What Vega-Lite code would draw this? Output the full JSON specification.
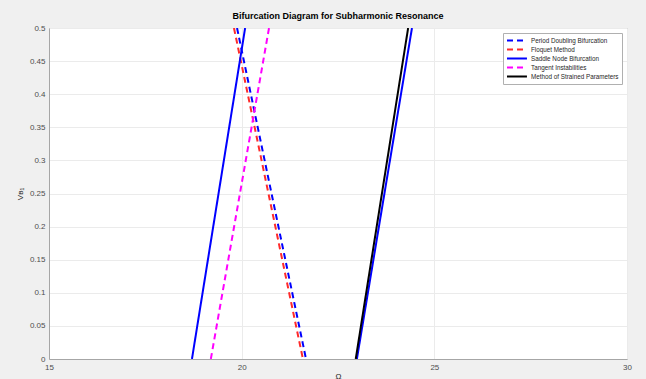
{
  "$schema": "https://vega.github.io/schema/vega-lite/v6.json",
  "width": 578,
  "height": 331,
  "autosize": {"type": "none"},
  "padding": {"left": 49, "top": 28, "right": 19, "bottom": 20},
  "background": "#f0f0f0",
  "title": {
    "text": "Bifurcation Diagram for Subharmonic Resonance",
    "font": "Liberation Sans",
    "fontSize": 9,
    "fontWeight": "bold",
    "color": "#000000",
    "anchor": "middle",
    "offset": 3
  },
  "config": {
    "view": {"fill": "white", "stroke": "#a6a6a6", "strokeWidth": 1},
    "axis": {
      "labelFont": "Liberation Sans",
      "labelFontSize": 8,
      "labelColor": "#4d4d4d",
      "titleFont": "Liberation Sans",
      "titleFontSize": 8,
      "titleFontWeight": "normal",
      "titleColor": "#262626",
      "gridColor": "#ebebeb",
      "gridWidth": 1,
      "domainColor": "#a6a6a6",
      "ticks": false,
      "labelPadding": 4,
      "labelFlush": false
    },
    "legend": {
      "labelFont": "Liberation Sans",
      "labelFontSize": 6.3,
      "labelColor": "#262626"
    }
  },
  "data": {
    "values": [
      {"series": "Period Doubling Bifurcation", "seg": "pd", "omega": 19.88, "v": 0.5},
      {"series": "Period Doubling Bifurcation", "seg": "pd", "omega": 21.67, "v": 0},
      {"series": "Floquet Method", "seg": "fl", "omega": 19.8, "v": 0.5},
      {"series": "Floquet Method", "seg": "fl", "omega": 21.59, "v": 0},
      {"series": "Saddle Node Bifurcation", "seg": "sn1", "omega": 18.71, "v": 0},
      {"series": "Saddle Node Bifurcation", "seg": "sn1", "omega": 20.09, "v": 0.5},
      {"series": "Saddle Node Bifurcation", "seg": "sn2", "omega": 22.99, "v": 0},
      {"series": "Saddle Node Bifurcation", "seg": "sn2", "omega": 24.42, "v": 0.5},
      {"series": "Tangent Instabilities", "seg": "ti", "omega": 19.2, "v": 0},
      {"series": "Tangent Instabilities", "seg": "ti", "omega": 20.71, "v": 0.5},
      {"series": "Method of Strained Parameters", "seg": "msp", "omega": 22.96, "v": 0},
      {"series": "Method of Strained Parameters", "seg": "msp", "omega": 24.32, "v": 0.5}
    ]
  },
  "mark": {"type": "line", "strokeWidth": 2, "clip": true},
  "encoding": {
    "x": {
      "field": "omega",
      "type": "quantitative",
      "scale": {"domain": [15, 30], "nice": false},
      "axis": {"values": [15, 20, 25, 30], "title": "Ω", "titlePadding": 1},
      "title": "Ω"
    },
    "y": {
      "field": "v",
      "type": "quantitative",
      "scale": {"domain": [0, 0.5], "nice": false},
      "axis": {
        "values": [0, 0.05, 0.1, 0.15, 0.2, 0.25, 0.3, 0.35, 0.4, 0.45, 0.5],
        "format": "~g",
        "title": "Vʙ₁",
        "titlePadding": 5
      }
    },
    "detail": {"field": "seg"},
    "color": {
      "field": "series",
      "type": "nominal",
      "scale": {
        "domain": ["Period Doubling Bifurcation", "Floquet Method", "Saddle Node Bifurcation", "Tangent Instabilities", "Method of Strained Parameters"],
        "range": ["#0000ff", "#ff2a2a", "#0000ff", "#ff00ff", "#000000"]
      },
      "legend": {
        "title": null,
        "orient": "top-right",
        "offset": 5,
        "fillColor": "white",
        "strokeColor": "#b0b0b0",
        "padding": 3,
        "symbolType": "M-1,0H4.7",
        "symbolSize": 49,
        "symbolStrokeWidth": 2,
        "rowPadding": 0,
        "labelOffset": 16
      }
    },
    "strokeDash": {
      "field": "series",
      "type": "nominal",
      "scale": {
        "domain": ["Period Doubling Bifurcation", "Floquet Method", "Saddle Node Bifurcation", "Tangent Instabilities", "Method of Strained Parameters"],
        "range": [[6, 4], [6, 4], [1, 0], [6, 4], [1, 0]]
      },
      "legend": {
        "title": null,
        "orient": "top-right",
        "offset": 5,
        "fillColor": "white",
        "strokeColor": "#b0b0b0",
        "padding": 3,
        "symbolType": "M-1,0H4.7",
        "symbolSize": 49,
        "symbolStrokeWidth": 2,
        "rowPadding": 0,
        "labelOffset": 16
      }
    }
  }
}
